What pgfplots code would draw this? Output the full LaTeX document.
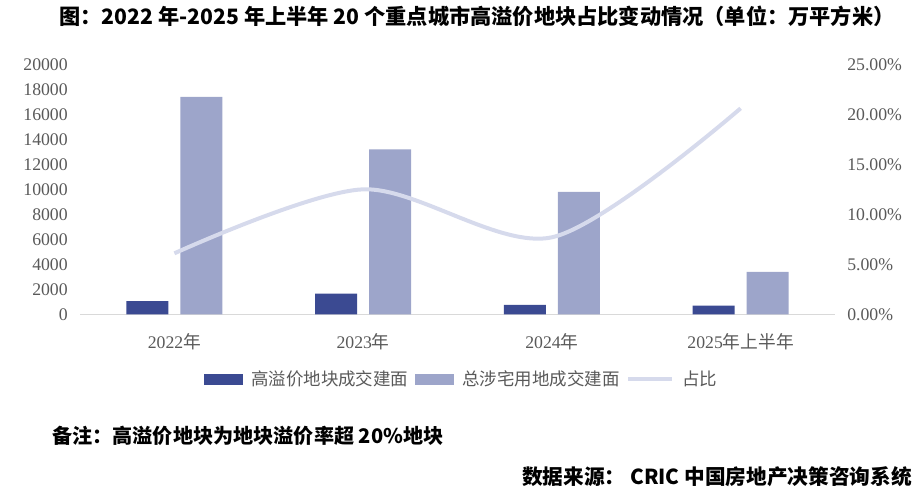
\documentclass[border=0pt]{standalone}
\usepackage{fontspec}
\setmainfont{Liberation Serif}
\newfontfamily\cjk{Noto Sans CJK SC}
\usepackage{pgfplots}
\pgfplotsset{compat=1.18}
\definecolor{darkbar}{RGB}{59,74,146}
\definecolor{lightbar}{RGB}{157,165,202}
\definecolor{linec}{RGB}{214,218,236}
\definecolor{tickgray}{RGB}{89,89,89}
\definecolor{axisgray}{RGB}{217,217,217}
\pgfplotsset{
  barlegend/.style={legend image code/.code={\fill[##1] (0pt,-4.1pt) rectangle (29.5pt,4.1pt);}},
  linelegend/.style={legend image code/.code={\draw[##1] (0pt,0pt) -- (33pt,0pt);}},
}
\begin{document}
\begin{tikzpicture}
\path[use as bounding box] (0,0) rectangle (692.25pt,371.25pt);
\begin{axis}[
  at={(60pt,135.5pt)}, anchor=south west,
  scale only axis, width=566.25pt, height=187.5pt,
  xmin=-0.5, xmax=3.5, ymin=0, ymax=20000,
  scaled y ticks=false,
  xtick={0,1,2,3},
  xticklabels={2022{\cjk 年}, 2023{\cjk 年}, 2024{\cjk 年}, 2025{\cjk 年上半年}},
  ytick={0,2000,4000,6000,8000,10000,12000,14000,16000,18000,20000},
  yticklabels={0,2000,4000,6000,8000,10000,12000,14000,16000,18000,20000},
  axis x line*=bottom, axis y line*=left,
  y axis line style={draw=none},
  x axis line style={draw=axisgray, line width=0.75pt, -},
  tick style={draw=none},
  tick label style={font=\fontsize{13.3}{15}\selectfont, text=tickgray},
  yticklabel style={inner sep=0pt, xshift=-9pt},
  xticklabel style={inner sep=0pt, yshift=-10pt},
  ybar, bar width=31.5pt,
  legend columns=3,
  legend style={at={(0.504,-0.259)}, anchor=center, draw=none, fill=none,
    font=\cjk\fontsize{13.1}{15}\selectfont, text=tickgray,
    nodes={inner sep=0pt},
    /tikz/every odd column/.append style={column sep=6pt},
    /tikz/every even column/.append style={column sep=5pt}},
]
\addplot[fill=darkbar, draw=none, bar shift=-20.25pt, barlegend] coordinates {(0,1060) (1,1650) (2,750) (3,700)};
\addlegendentry{高溢价地块成交建面}
\addplot[fill=lightbar, draw=none, bar shift=20.25pt, barlegend] coordinates {(0,17400) (1,13200) (2,9800) (3,3400)};
\addlegendentry{总涉宅用地成交建面}
\addlegendimage{draw=linec, line width=3pt, linelegend}
\addlegendentry{占比}
\end{axis}
\begin{axis}[
  at={(60pt,135.5pt)}, anchor=south west,
  scale only axis, width=566.25pt, height=187.5pt,
  xmin=-0.5, xmax=3.5, ymin=0, ymax=25,
  axis x line=none, axis y line*=right,
  y axis line style={draw=none},
  tick style={draw=none},
  ytick={0,5,10,15,20,25},
  yticklabels={0.00\%,5.00\%,10.00\%,15.00\%,20.00\%,25.00\%},
  tick label style={font=\fontsize{13.3}{15}\selectfont, text=tickgray},
  yticklabel style={inner sep=0pt, xshift=9pt, anchor=west},
]
\addplot[draw=linec, line width=3pt, smooth, tension=0.5] coordinates {(0,6.1) (1,12.5) (2,7.7) (3,20.6)};
\end{axis}
\node[font=\cjk\bfseries\fontsize{15.9}{18}\selectfont] at (357.75pt,359.25pt) {图：2022 年-2025 年上半年 20 个重点城市高溢价地块占比变动情况（单位：万平方米）};
\node[anchor=west, inner sep=0pt, font=\cjk\bfseries\fontsize{15.1}{17}\selectfont] at (39pt,44.25pt) {备注：高溢价地块为地块溢价率超 20\%地块};
\node[anchor=east, inner sep=0pt, font=\cjk\bfseries\fontsize{15.5}{17}\selectfont] at (684pt,13.5pt) {数据来源：\ CRIC 中国房地产决策咨询系统};
\end{tikzpicture}
\end{document}
